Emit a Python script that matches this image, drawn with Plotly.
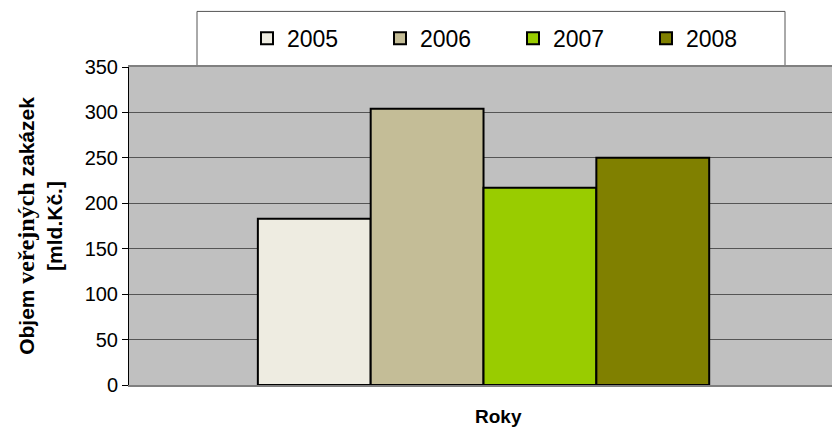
import plotly.graph_objects as go

# Public procurement volume per year (bn CZK)
years = ["2005", "2006", "2007", "2008"]
values = [183, 304, 217, 250]
colors = ["#EEECE1", "#C4BD97", "#99CC00", "#808000"]

y_ticks = [0, 50, 100, 150, 200, 250, 300, 350]

fig = go.Figure()
for year, val, col in zip(years, values, colors):
    fig.add_trace(go.Bar(
        x=[0], y=[val], name=year,
        marker=dict(color=col, line=dict(color="#000000", width=2)),
    ))

fig.update_layout(
    width=832, height=429,
    margin=dict(l=129, r=0, t=67, b=44),
    paper_bgcolor="#FFFFFF",
    plot_bgcolor="#C0C0C0",
    barmode="group",
    bargap=0.358,
    bargroupgap=0,
    font=dict(family="Liberation Sans, Arial, sans-serif", color="#000000"),
    showlegend=True,
    legend=dict(
        orientation="h",
        x=(247 - 129) / 703, xanchor="left",
        y=1.09, yanchor="middle",
        font=dict(size=23),
        itemwidth=30,
        entrywidth=88,
        bgcolor="rgba(0,0,0,0)",
        traceorder="normal",
    ),
    xaxis=dict(
        range=[-0.5043, 0.4957],
        showticklabels=False,
        ticks="",
        showgrid=False,
        zeroline=False,
        showline=True, mirror=True,
        linecolor="#808080", linewidth=2,
    ),
    yaxis=dict(
        range=[0, 350],
        tickvals=y_ticks,
        tickfont=dict(size=20),
        showgrid=True, gridcolor="#555555", gridwidth=1,
        zeroline=False,
        showline=True, linecolor="#000000", linewidth=1,
        ticks="outside", ticklen=6, tickcolor="#000000",
        title=dict(
            text="<b>Objem <span style=\"font-family:Liberation Serif;font-size:24px\">veřejných</span> zakázek<br>[mld.Kč.]</b>",
            font=dict(size=21),
            standoff=16,
        ),
    ),
    annotations=[
        dict(
            text="<b>Roky</b>", xref="paper", yref="paper",
            x=(498 - 129) / 703, y=(385 - 416.5) / 317.5,
            xanchor="center", yanchor="middle",
            showarrow=False, font=dict(size=19),
        )
    ],
    shapes=[
        dict(
            type="rect", xref="paper", yref="paper",
            x0=(197 - 129) / 703, x1=(785 - 129) / 703,
            y0=1.0047, y1=1.1748,
            fillcolor="#FFFFFF",
            line=dict(color="#555555", width=1),
            layer="below",
        )
    ],
)

fig.write_html("out.html")
